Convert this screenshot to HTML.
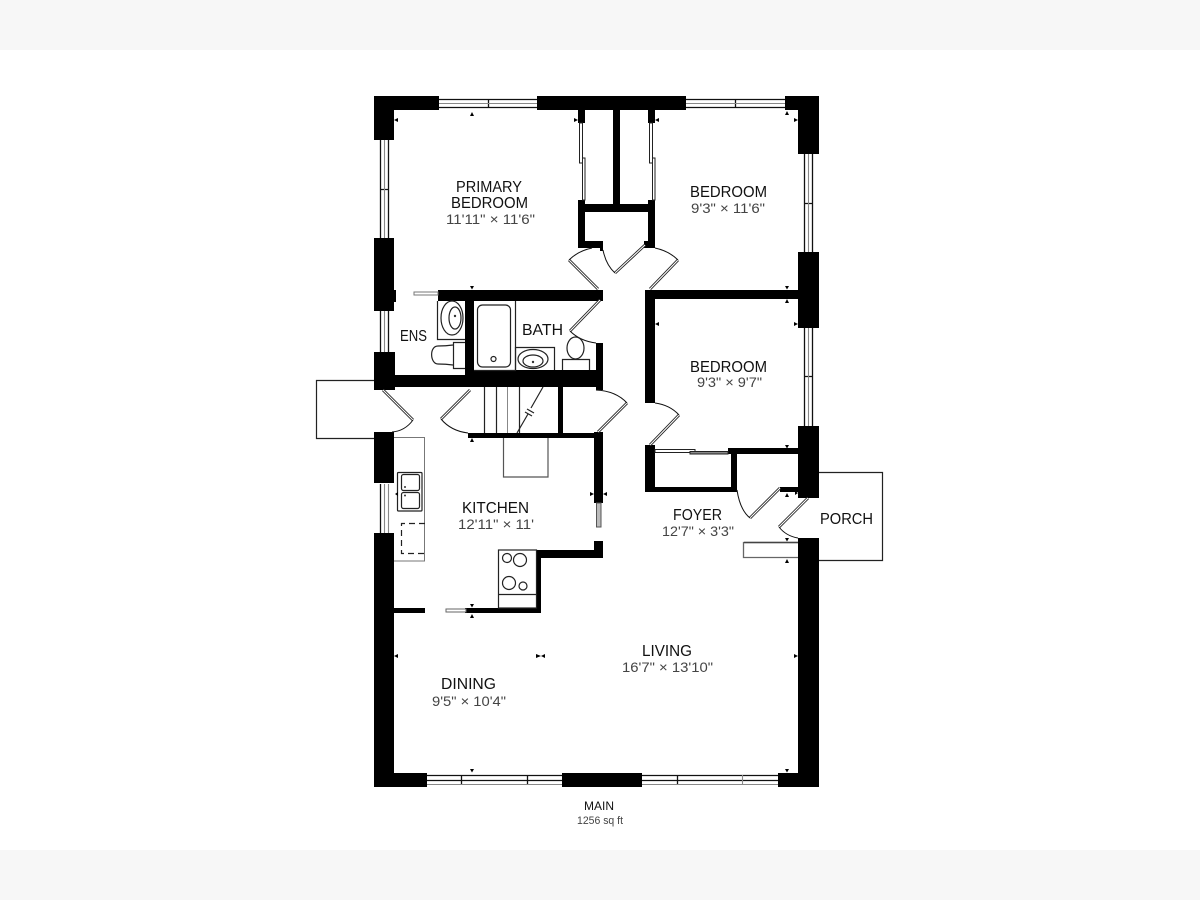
<!DOCTYPE html>
<html><head><meta charset="utf-8"><style>
html,body{margin:0;padding:0;background:#fff;width:1200px;height:900px;overflow:hidden}
svg{display:block}
text{font-family:"Liberation Sans",sans-serif;fill:#111}
.l{font-size:16px}.d{font-size:14px;fill:#444}
</style></head><body>
<svg width="1200" height="900" viewBox="0 0 1200 900" xmlns="http://www.w3.org/2000/svg">
<rect width="1200" height="900" fill="#fff"/>
<rect width="1200" height="50" fill="#f7f7f7"/>
<rect y="850" width="1200" height="50" fill="#f7f7f7"/>

<!-- outdoor outlines -->
<g fill="none" stroke="#222" stroke-width="1.200">
<path d="M374 380.500H316.500V438.500H376"/>
<path d="M818 472.500H882.500V560.500H818"/>
</g>
<path d="M798 542.500H743.500V557.500H798" fill="none" stroke="#666" stroke-width="1.300"/>
<path d="M744 542.500H798" stroke="#444" stroke-width="1.500"/>
<path d="M503.500 437V477H548V437" fill="none" stroke="#555" stroke-width="1.200"/>

<!-- windows -->
<g fill="none" stroke="#111" stroke-width="1.300">
<path d="M439 99.500H537M439 107.500H537M488.500 99V108"/>
<path d="M686 99.500H785M686 107.500H785M735.500 99V108"/>
<path d="M380.500 140V238M388.500 140V238M380 189.500H389"/>
<path d="M380.500 311V352M388.500 311V352"/>
<path d="M804.500 154V252M812.500 154V252M804 203.500H813"/>
<path d="M804.500 328V426M812.500 328V426M804 376.500H813"/>
<path d="M380.500 484V533"/>
<path d="M427 775.500H562M427 780.500H562M461.500 775V784M527.500 775V784"/>
<path d="M642 775.500H778M642 780.500H778M677.500 775V784"/>
</g>
<g fill="none" stroke="#888" stroke-width="1.100">
<path d="M439 103.500H537M686 103.500H785M384.500 140V238M384.500 311V352M808.500 154V252M808.500 328V426M384.500 484V533"/>
<path d="M427 784.500H562M642 784.500H778M742.500 775V784M388.500 484V533"/>
</g>

<!-- walls -->
<g fill="#000">
<rect x="374" y="96" width="65" height="14"/>
<rect x="374" y="96" width="20" height="44"/>
<rect x="537" y="96" width="149" height="14"/>
<rect x="785" y="96" width="34" height="14"/>
<rect x="798" y="96" width="21" height="58"/>
<rect x="374" y="238" width="20" height="73"/>
<rect x="394" y="290" width="2" height="12"/>
<rect x="374" y="352" width="21" height="38"/>
<rect x="374" y="432" width="20" height="51"/>
<rect x="374" y="533" width="20" height="254"/>
<rect x="374" y="773" width="53" height="14"/>
<rect x="562" y="773" width="80" height="14"/>
<rect x="778" y="773" width="41" height="14"/>
<rect x="798" y="252" width="21" height="76"/>
<rect x="798" y="426" width="21" height="72"/>
<rect x="798" y="538" width="21" height="249"/>
<!-- closets -->
<rect x="578" y="110" width="7" height="13"/>
<rect x="648" y="110" width="7" height="13"/>
<rect x="613" y="110" width="7" height="95"/>
<rect x="578" y="204" width="77" height="8"/>
<rect x="578" y="200" width="7" height="48"/>
<rect x="648" y="200" width="7" height="48"/>
<rect x="578" y="241" width="25" height="7"/>
<rect x="600" y="241" width="3" height="10"/>
<rect x="644" y="241" width="11" height="7"/>
<!-- bath -->
<rect x="438" y="290" width="165" height="11"/>
<rect x="465" y="290" width="9" height="97"/>
<rect x="394" y="375" width="208" height="12"/>
<rect x="465" y="370" width="137" height="17"/>
<rect x="596" y="343" width="7" height="47"/>
<!-- stairs walls -->
<rect x="558" y="387" width="5" height="47"/>
<rect x="468" y="433" width="135" height="5"/>
<rect x="594" y="432" width="9" height="71"/>
<rect x="594" y="541" width="9" height="17"/>
<rect x="537" y="550" width="66" height="8"/>
<rect x="537" y="550" width="4" height="63"/>
<rect x="465" y="608" width="76" height="5"/>
<rect x="394" y="608" width="31" height="5"/>
<!-- bedroom 3 -->
<rect x="645" y="290" width="153" height="9"/>
<rect x="645" y="290" width="10" height="113"/>
<rect x="645" y="445" width="10" height="47"/>
<rect x="645" y="487" width="92" height="5"/>
<rect x="731" y="448" width="6" height="44"/>
<rect x="728" y="448" width="70" height="6"/>
<rect x="780" y="487" width="18" height="5"/>
</g>

<!-- sliding doors -->
<g fill="#fff" stroke="#222" stroke-width="1">
<rect x="579.500" y="123" width="3" height="40"/>
<rect x="582.500" y="158" width="2.500" height="42"/>
<rect x="649.500" y="123" width="3" height="40"/>
<rect x="652.500" y="158" width="2.500" height="42"/>
<rect x="655" y="449.500" width="40" height="3"/>
<rect x="690" y="451.500" width="38" height="2.500" fill="#888"/>
</g>
<rect x="414" y="292" width="24" height="3" fill="#fff" stroke="#777"/>
<rect x="446" y="609" width="20" height="3" fill="#fff" stroke="#666"/>
<rect x="596.500" y="503" width="4.500" height="24" fill="#bbb" stroke="#555"/>

<!-- swing doors: leaf -->
<g fill="none" stroke="#222" stroke-width="2.800">
<path d="M598 289L569 260"/><path d="M645 245L615 273"/><path d="M650 289L678 260"/>
<path d="M600 300L570 331"/><path d="M383 390L413 420"/><path d="M470 390L441 419"/>
<path d="M598 432L627 403"/><path d="M650 445L679 415"/><path d="M780 488L750 518"/>
<path d="M808 498L779 527"/>
</g>
<g fill="none" stroke="#fff" stroke-width="1.100">
<path d="M598 289L569 260"/><path d="M645 245L615 273"/><path d="M650 289L678 260"/>
<path d="M600 300L570 331"/><path d="M383 390L413 420"/><path d="M470 390L441 419"/>
<path d="M598 432L627 403"/><path d="M650 445L679 415"/><path d="M780 488L750 518"/>
<path d="M808 498L779 527"/>
</g>
<!-- door arcs -->
<g fill="none" stroke="#111" stroke-width="1">
<path d="M569 260Q578 251 592 248"/>
<path d="M603 250Q606 265 615 273"/>
<path d="M678 260Q669 251 655 248"/>
<path d="M570 331Q580 341 596 343"/>
<path d="M413 420Q405 431 392 432"/>
<path d="M441 419Q451 431 468 433"/>
<path d="M627 403Q616 391 596 390"/>
<path d="M679 415Q670 405 655 403"/>
<path d="M750 518Q740 510 737 490"/>
<path d="M779 527Q786 536 798 538"/>
</g>

<!-- fixtures -->
<g fill="none" stroke="#222" stroke-width="1.200">
<path d="M437.500 301V339.500H465"/>
<ellipse cx="452" cy="318" rx="11" ry="17"/>
<ellipse cx="455" cy="318" rx="6" ry="11"/>
<path d="M465 342.500H453.500V368.500H465"/>
<path d="M453 345Q446 346 438 346C429 346 430 364 438 364Q446 364 453 365"/>
<!-- tub -->
<path d="M474 370.500H515.500V301"/>
<rect x="477.500" y="305" width="33" height="62" rx="5"/>
<circle cx="493.500" cy="359" r="2.500"/>
<!-- bath sink -->
<path d="M515 347.500H554.500V370"/>
<path d="M515.500 347V370"/>
<ellipse cx="533" cy="359" rx="15" ry="9.500"/>
<ellipse cx="533" cy="361" rx="10" ry="6"/>
<!-- toilet -->
<path d="M562.500 370V359.500H589.500V370"/>
<ellipse cx="575.500" cy="348" rx="8.500" ry="11"/>
<!-- stairs -->
<path d="M484.500 387V433M496.500 387V433M519.500 387V433"/>
<path d="M543 387L531 408M528 414L517 433M527 409L534 413M525 412L532 416"/>
<!-- stove -->
<rect x="498.500" y="550" width="38" height="58"/>
<path d="M498 594.500H537"/>
<circle cx="507" cy="558" r="4.500"/><circle cx="520" cy="560" r="6.500"/>
<circle cx="509" cy="583" r="6.500"/><circle cx="523" cy="586" r="4"/>
<!-- sink -->
<rect x="397.500" y="472.500" width="24.500" height="38.500" rx="1"/>
<rect x="401.500" y="474.500" width="18" height="16" rx="2"/>
<rect x="401.500" y="492.500" width="18" height="16" rx="2"/>
</g>
<path d="M507.500 387V433" stroke="#888" stroke-width="1"/>
<path d="M394 437.500H424.500V561H394" fill="none" stroke="#777" stroke-width="1"/>
<path d="M425 523.500H401.500V553.500H425" fill="none" stroke="#222" stroke-width="1.200" stroke-dasharray="6 4"/>
<circle cx="405" cy="487" r="1" fill="#333"/><circle cx="405" cy="495.500" r="1" fill="#333"/>
<circle cx="455" cy="316" r="1.200" fill="#333"/><circle cx="533" cy="362" r="1.200" fill="#333"/>

<!-- ticks -->
<g fill="#000">
<path d="M470 116l2-4 2 4zM394 120l4-2v4zM578 120l-4-2v4zM470 286h4l-2 3.500z"/>
<path d="M655 120l4-2v4zM785 115l2-4 2 4z"/>
<path d="M798 120l-4-2v4zM785 286h4l-2 3.500zM785 303l2-4 2 4zM655 324l4-2v4z"/>
<path d="M798 324l-4-2v4zM785 445h4l-2 3.500zM785 497l2-4 2 4zM798 493l-3-2v4zM785 538h4l-2 3.500zM785 563l2-4 2 4z"/>
<path d="M470 442l2-4 2 4zM594 494l-4-2v4zM603 494l4-2v4zM395 494l3-2v4z"/>
<path d="M470 604h4l-2 3.500zM470 618l2-4 2 4z"/>
<path d="M394 656l4-2v4zM541 656l-5-2v4zM541 656l4-2v4zM798 656l-4-2v4z"/>
<path d="M470 769h4l-2 3.500zM785 769h4l-2 3.500z"/>
</g>

<!-- labels -->
<text class="l" x="456" y="192" textLength="66" lengthAdjust="spacingAndGlyphs">PRIMARY</text>
<text class="l" x="451" y="208" textLength="77" lengthAdjust="spacingAndGlyphs">BEDROOM</text>
<text class="d" x="446" y="224" textLength="89" lengthAdjust="spacingAndGlyphs">11'11" × 11'6"</text>
<text class="l" x="690" y="197" textLength="77" lengthAdjust="spacingAndGlyphs">BEDROOM</text>
<text class="d" x="691" y="213" textLength="74" lengthAdjust="spacingAndGlyphs">9'3" × 11'6"</text>
<text class="l" x="400" y="341" textLength="27" lengthAdjust="spacingAndGlyphs">ENS</text>
<text class="l" x="522" y="335" textLength="41" lengthAdjust="spacingAndGlyphs">BATH</text>
<text class="l" x="690" y="372" textLength="77" lengthAdjust="spacingAndGlyphs">BEDROOM</text>
<text class="d" x="697" y="387" textLength="65" lengthAdjust="spacingAndGlyphs">9'3" × 9'7"</text>
<text class="l" x="673" y="520" textLength="49" lengthAdjust="spacingAndGlyphs">FOYER</text>
<text class="d" x="662" y="536" textLength="72" lengthAdjust="spacingAndGlyphs">12'7" × 3'3"</text>
<text class="l" x="820" y="524" textLength="53" lengthAdjust="spacingAndGlyphs">PORCH</text>
<text class="l" x="462" y="513" textLength="67" lengthAdjust="spacingAndGlyphs">KITCHEN</text>
<text class="d" x="458" y="529" textLength="76" lengthAdjust="spacingAndGlyphs">12'11" × 11'</text>
<text class="l" x="642" y="656" textLength="50" lengthAdjust="spacingAndGlyphs">LIVING</text>
<text class="d" x="622" y="672" textLength="91" lengthAdjust="spacingAndGlyphs">16'7" × 13'10"</text>
<text class="l" x="441" y="689" textLength="55" lengthAdjust="spacingAndGlyphs">DINING</text>
<text class="d" x="432" y="706" textLength="74" lengthAdjust="spacingAndGlyphs">9'5" × 10'4"</text>
<text x="584" y="810" font-size="11.500" textLength="30" lengthAdjust="spacingAndGlyphs">MAIN</text>
<text x="577" y="824" font-size="11" style="fill:#444" textLength="46" lengthAdjust="spacingAndGlyphs">1256 sq ft</text>
</svg>
</body></html>
